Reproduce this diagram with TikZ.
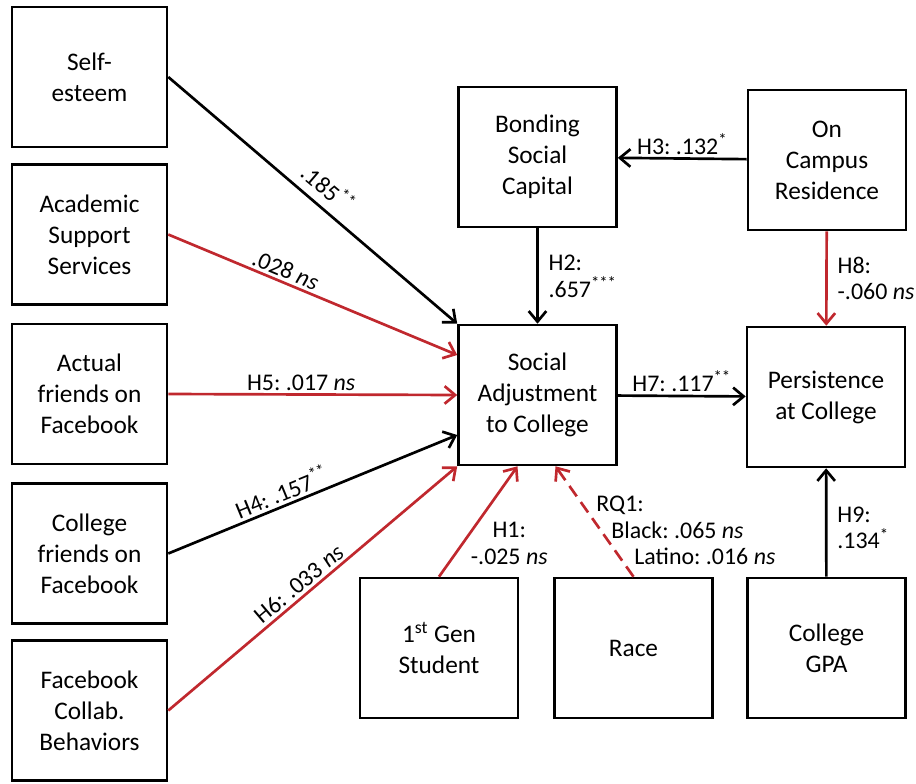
\documentclass[tikz,border=0pt]{standalone}
\usepackage{fontspec}
\setmainfont{Carlito}
\usetikzlibrary{arrows.meta}
\definecolor{pathred}{RGB}{192,40,46}
\frenchspacing
\tikzset{
  box/.style={draw, line width=1.8pt, minimum width=3.95cm, minimum height=3.5cm,
    inner sep=0pt, align=center, font=\fontsize{18}{22}\selectfont},
  link/.style={line width=1.9pt, -{Straight Barb[length=7.5pt,width=12.5pt]}},
  redlink/.style={link, draw=pathred},
  lab/.style={font=\fontsize{17}{19}\selectfont, inner sep=2pt},
}
\begin{document}
\begin{tikzpicture}[x=0.025cm,y=-0.025cm]
\useasboundingbox (0,0) rectangle (916,784);
% predictors on the left
\node[box, minimum width=3.875cm] (self)    at (89.5,77)    {Self-\\esteem};
\node[box, minimum width=3.875cm] (acad)    at (89.5,234.5) {Academic\\Support\\Services};
\node[box, minimum width=3.875cm] (actual)  at (89.5,394)   {Actual\\friends on\\Facebook};
\node[box, minimum width=3.875cm] (college) at (89.5,553.5) {College\\friends on\\Facebook};
\node[box, minimum width=3.875cm] (collab)  at (89.5,710.5) {Facebook\\Collab.\\Behaviors};
% middle and right
\node[box] (bond)     at (537.5,157) {Bonding\\Social\\Capital};
\node[box] (campus)   at (827,160)   {On\\Campus\\Residence};
\node[box] (social)   at (537.5,395) {Social\\Adjustment\\to College};
\node[box] (persist)  at (826,397)   {Persistence\\at College};
\node[box] (firstgen) at (439,648)   {1\textsuperscript{st} Gen\\Student};
\node[box] (race)     at (633.5,648) {Race};
\node[box] (gpa)      at (826.5,648) {College\\GPA};
% paths
\draw[link] (self.east) -- (social.north west)
  node[lab, sloped, above=4pt, pos=0.51] {.185\textsuperscript{**}};
\draw[redlink] (acad.east) -- ([yshift=1cm]social.west)
  node[lab, sloped, above, pos=0.39] {.028 \textit{ns}};
\draw[redlink] (actual.east) -- (social.west)
  node[lab, above, pos=0.46] {H5: .017 \textit{ns}};
\draw[link] (college.east) -- ([yshift=-1cm]social.west)
  node[lab, sloped, above, pos=0.41] {H4: .157\textsuperscript{**}};
\draw[redlink] (collab.east) -- (social.south west)
  node[lab, sloped, above, pos=0.48] {H6: .033 \textit{ns}};
\draw[link] (bond) -- (social)
  node[lab, right=5pt, align=left, pos=0.5] {H2:\\.657\textsuperscript{***}};
\draw[link] (campus) -- (bond)
  node[lab, above, pos=0.5] {H3: .132\textsuperscript{*}};
\draw[redlink] (campus) -- (persist)
  node[lab, right=5pt, align=left, pos=0.5] {H8:\\-.060 \textit{ns}};
\draw[link] (social) -- (persist)
  node[lab, above, pos=0.5] {H7: .117\textsuperscript{**}};
\draw[link] (gpa) -- (persist)
  node[lab, right=5pt, align=left, pos=0.45] {H9:\\.134\textsuperscript{*}};
\draw[redlink] (firstgen.north) -- ([xshift=-0.5cm]social.south)
  node[lab, right=3pt, align=center, pos=0.3] {H1:\\-.025 \textit{ns}};
\draw[redlink, dash pattern=on 9pt off 5pt] (race.north) -- ([xshift=0.45cm]social.south)
  node[lab, align=left, anchor=north west, pos=0.77, xshift=0.47cm]
  {RQ1:\\\hspace*{0.375cm}Black: .065 \textit{ns}\\\hspace*{0.95cm}Latino: .016 \textit{ns}};
\end{tikzpicture}
\end{document}
